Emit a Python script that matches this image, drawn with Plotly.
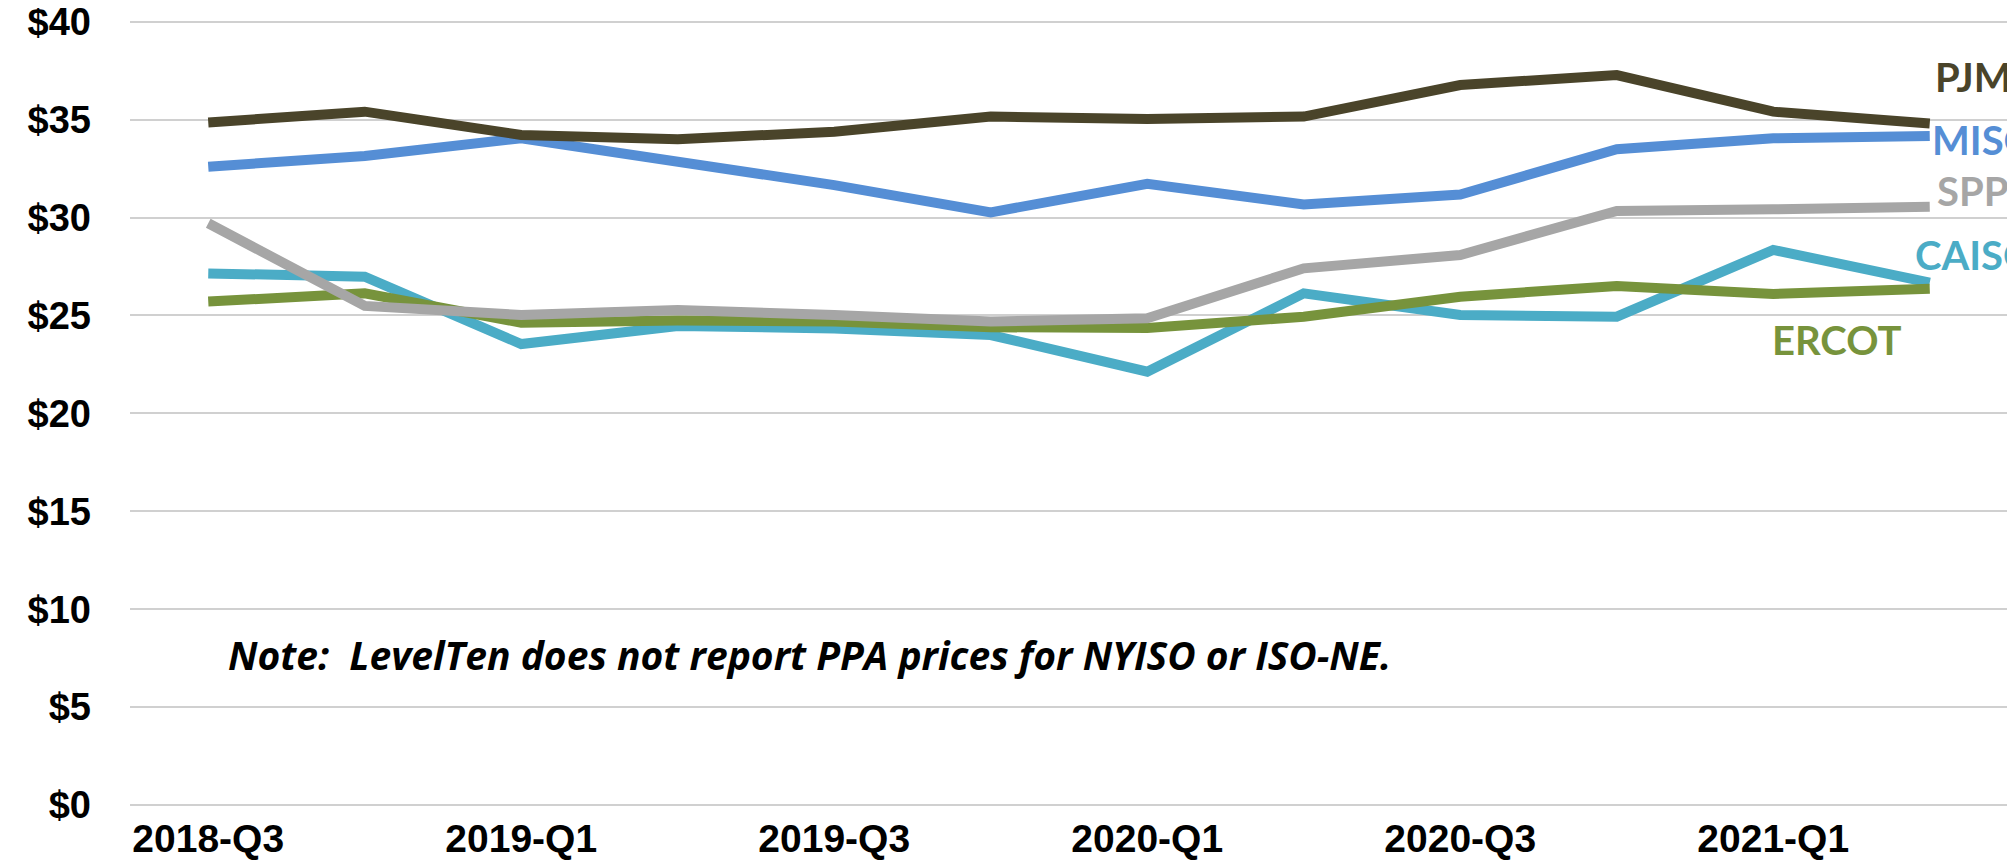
import plotly.graph_objects as go

quarters = ["2018-Q3", "2018-Q4", "2019-Q1", "2019-Q2", "2019-Q3", "2019-Q4",
            "2020-Q1", "2020-Q2", "2020-Q3", "2020-Q4", "2021-Q1", "2021-Q2"]
tick_quarters = ["2018-Q3", "2019-Q1", "2019-Q3", "2020-Q1", "2020-Q3", "2021-Q1"]

pjm = [34.86, 35.41, 34.22, 34.00, 34.39, 35.16, 35.04, 35.16, 36.77, 37.28, 35.41, 34.81]
miso = [32.60, 33.15, 34.05, 32.86, 31.66, 30.27, 31.72, 30.67, 31.18, 33.49, 34.05, 34.17]
spp = [29.71, 25.49, 25.03, 25.28, 25.03, 24.69, 24.86, 27.41, 28.09, 30.34, 30.42, 30.56]
caiso = [27.15, 26.98, 23.54, 24.46, 24.34, 24.00, 22.13, 26.13, 25.03, 24.94, 28.35, 26.68]
ercot = [25.71, 26.13, 24.63, 24.74, 24.69, 24.40, 24.36, 24.94, 25.96, 26.51, 26.10, 26.37]

y_ticks = [0, 5, 10, 15, 20, 25, 30, 35, 40]
y_tick_labels = ["$0", "$5", "$10", "$15", "$20", "$25", "$30", "$35", "$40"]

note = "Note:  LevelTen does not report PPA prices for NYISO or ISO-NE."

# draw order: bottom to top
series = [
    ("CAISO", caiso, "#4BACC6"),
    ("ERCOT", ercot, "#77933C"),
    ("SPP", spp, "#A6A6A6"),
    ("MISO", miso, "#558ED5"),
    ("PJM", pjm, "#4A442A"),
]

fig = go.Figure()
for name, vals, color in series:
    fig.add_trace(go.Scatter(
        x=quarters, y=vals, mode="lines", name=name,
        line=dict(color=color, width=10), showlegend=False,
        cliponaxis=False,
    ))

label_font = "Lato, 'Open Sans', sans-serif"
colors = {n: c for n, _, c in series}
labels = [
    ("PJM", 11.28, 37.18, "center"),
    ("MISO", 11.0, 33.96, "left"),
    ("SPP", 11.27, 31.36, "center"),
    ("CAISO", 10.89, 28.09, "left"),
    ("ERCOT", 10.41, 23.75, "center"),
]
for name, xi, yv, anchor in labels:
    fig.add_annotation(
        x=xi, y=yv, xref="x", yref="y", text="<b>%s</b>" % name,
        showarrow=False, xanchor=anchor, yanchor="middle",
        font=dict(family=label_font, size=40, color=colors[name]),
    )

# page body has an 8px margin: figure origin sits at (8, 8)
y_max = 40.5
plot_left, plot_right, plot_bottom = 122, 2000, 797
px_per_dollar = 19.58
plot_top = plot_bottom - y_max * px_per_dollar
pw = plot_right - plot_left
ph = plot_bottom - plot_top

fig.add_annotation(
    xref="paper", yref="paper",
    x=(218 - plot_left) / pw, y=(plot_bottom - 647) / ph,
    xanchor="left", yanchor="middle",
    text="<b><i>%s</i></b>" % note, showarrow=False,
    font=dict(family="'Open Sans', sans-serif", size=39, color="black"),
)

tick_font_x = dict(family="Arial, 'Liberation Sans', sans-serif", size=39, color="black", weight="bold")
tick_font_y = dict(family="Arial, 'Liberation Sans', sans-serif", size=38, color="black", weight="bold")

fig.update_layout(
    width=2007, height=853,
    margin=dict(l=plot_left, r=2007 - plot_right, t=plot_top, b=853 - plot_bottom, autoexpand=False),
    plot_bgcolor="white", paper_bgcolor="white",
    xaxis=dict(
        type="category", range=[-0.5, 11.5],
        tickmode="array", tickvals=tick_quarters, ticktext=tick_quarters,
        showgrid=False, zeroline=False, showline=False, ticks="",
        tickfont=tick_font_x, ticklabelstandoff=7,
    ),
    yaxis=dict(
        range=[0, y_max], tickmode="array", tickvals=y_ticks, ticktext=y_tick_labels,
        showgrid=True, gridcolor="#D0D0D0", gridwidth=2,
        zeroline=True, zerolinecolor="#D0D0D0", zerolinewidth=2,
        showline=False, ticks="", tickfont=tick_font_y, ticklabelstandoff=38,
        ticklabeloverflow="allow",
    ),
)

fig.write_html("out.html")
